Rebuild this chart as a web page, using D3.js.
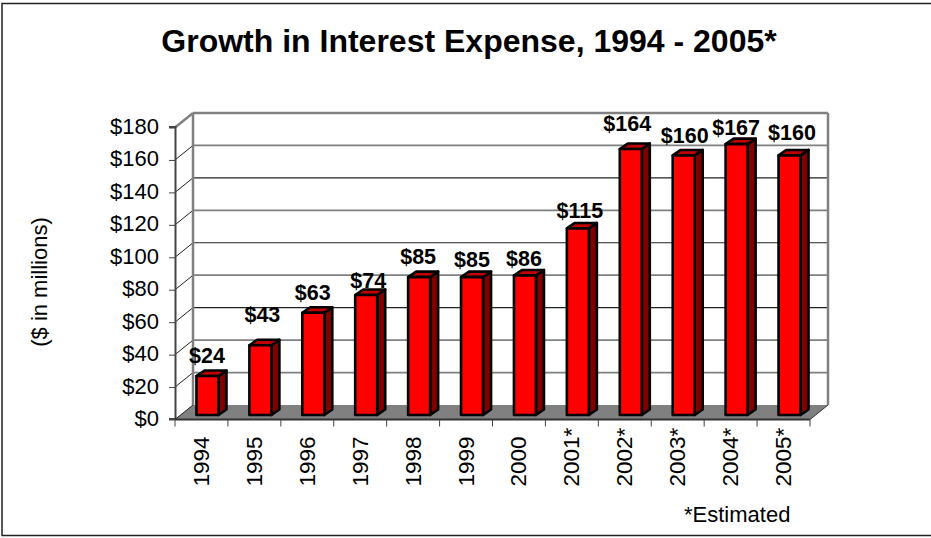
<!DOCTYPE html>
<html>
<head>
<meta charset="utf-8">
<script src="https://cdn.jsdelivr.net/npm/d3@7"></script>
<style>
html, body { margin: 0; padding: 0; background: #fff; overflow: hidden; }
svg { display: block; }
text { font-family: "Liberation Sans", Arial, sans-serif; fill: #000; }
</style>
</head>
<body>
<div id="chart"></div>
<script>
var years = ["1994", "1995", "1996", "1997", "1998", "1999", "2000", "2001*", "2002*", "2003*", "2004*", "2005*"];
var values = [24, 43, 63, 74, 85, 85, 86, 115, 164, 160, 167, 160];
var yTicks = [0, 20, 40, 60, 80, 100, 120, 140, 160, 180];
// hand placed value labels, the original has them dragged around a bit
var labelNudgeX = [-1.5, 1, -1.5, 1, -2, -1, -2, 1, -4.5, 0, -1.5, 1.5];
var labelNudgeY = [1, -9, 1, 7, 1, 4, 4.5, 3.5, -4, 1.5, 5, -1.5];
// these gridlines come out thin and dark in the original, the rest wide and gray
var darkGrid = [60, 100, 140];

var width = 931, height = 538;
var depthX = 18, depthY = 14.5;

var svg = d3.select("#chart").append("svg")
    .attr("width", width)
    .attr("height", height);

// outer frame
svg.append("rect")
    .attr("x", 2).attr("y", 3.5)
    .attr("width", 935).attr("height", 532)
    .attr("fill", "#fff")
    .attr("stroke", "#222")
    .attr("stroke-width", 1.5);

svg.append("text")
    .attr("x", 469).attr("y", 52)
    .attr("text-anchor", "middle")
    .attr("font-size", "32px")
    .attr("font-weight", "bold")
    .text("Growth in Interest Expense, 1994 - 2005*");

var x = d3.scaleBand().domain(years).range([175, 810]);
var y = d3.scaleLinear().domain([0, 180]).range([419.5, 127.5]);

// floor
svg.append("polygon")
    .attr("points", [[175, y(0)], [175 + depthX, y(0) - depthY], [810 + depthX, y(0) - depthY], [810, y(0)]].join(" "))
    .attr("fill", "#808080");

// gridlines on the back wall and the left wall
var grid = svg.append("g");
grid.selectAll(".back").data(yTicks.slice(1)).enter().append("line")
    .attr("class", "back")
    .attr("x1", 175 + depthX).attr("x2", 810 + depthX)
    .attr("y1", function(d) { return y(d) - depthY; })
    .attr("y2", function(d) { return y(d) - depthY; })
    .attr("stroke", function(d) { return darkGrid.indexOf(d) >= 0 ? "#222" : "#808080"; })
    .attr("stroke-width", function(d) { return d == 180 ? 2.5 : darkGrid.indexOf(d) >= 0 ? 1.1 : 1.7; });
grid.selectAll(".side").data(yTicks).enter().append("line")
    .attr("class", "side")
    .attr("x1", 175).attr("x2", 175 + depthX)
    .attr("y1", function(d) { return y(d); })
    .attr("y2", function(d) { return y(d) - depthY; })
    .attr("stroke", function(d) { return d == 180 ? "#808080" : "#222"; })
    .attr("stroke-width", function(d) { return d == 180 ? 2.5 : 1; });

// back wall edges
svg.append("line")
    .attr("x1", 175 + depthX).attr("x2", 175 + depthX)
    .attr("y1", y(180) - depthY).attr("y2", y(0) - depthY)
    .attr("stroke", "#808080").attr("stroke-width", 2.5);
svg.append("line")
    .attr("x1", 810 + depthX).attr("x2", 810 + depthX)
    .attr("y1", y(180) - depthY).attr("y2", y(0) - depthY)
    .attr("stroke", "#808080").attr("stroke-width", 2.5);
svg.append("line")
    .attr("x1", 810).attr("x2", 810 + depthX)
    .attr("y1", y(0)).attr("y2", y(0) - depthY)
    .attr("stroke", "#333");

// bars
var barW = 22, barDx = 8, barDy = 5.5, frontDx = 6, frontDy = 4.5;
var bars = svg.selectAll(".bar").data(values).enter().append("g")
    .attr("class", "bar")
    .attr("stroke", "#000")
    .attr("stroke-width", 2.6)
    .attr("stroke-linejoin", "round");

function barLeft(i) { return x(years[i]) + x.bandwidth() / 2 - barW / 2 + frontDx; }
function barTop(d) { return y(d) - frontDy; }
function barBottom() { return y(0) - frontDy; }

bars.append("polygon")
    .attr("fill", "#800000")
    .attr("points", function(d, i) {
        var r = barLeft(i) + barW;
        return [[r, barTop(d)], [r + barDx, barTop(d) - barDy], [r + barDx, barBottom() - barDy], [r, barBottom()]].join(" ");
    });
bars.append("polygon")
    .attr("fill", "#c00000")
    .attr("points", function(d, i) {
        var l = barLeft(i), r = l + barW;
        return [[l, barTop(d)], [l + barDx, barTop(d) - barDy], [r + barDx, barTop(d) - barDy], [r, barTop(d)]].join(" ");
    });
bars.append("rect")
    .attr("fill", "#ff0000")
    .attr("x", function(d, i) { return barLeft(i); })
    .attr("y", function(d) { return barTop(d); })
    .attr("width", barW)
    .attr("height", function(d) { return barBottom() - barTop(d); });

// value labels
svg.selectAll(".value").data(values).enter().append("text")
    .attr("class", "value")
    .attr("x", function(d, i) { return barLeft(i) + barW / 2 + 1 + labelNudgeX[i]; })
    .attr("y", function(d, i) { return barTop(d) - 14 + labelNudgeY[i]; })
    .attr("text-anchor", "middle")
    .attr("font-size", "21.5px")
    .attr("font-weight", "bold")
    .text(function(d) { return "$" + d; });

// axes
var yAxis = svg.append("g")
    .attr("transform", "translate(175,-1)")
    .call(d3.axisLeft(y).tickValues(yTicks).tickSize(6).tickPadding(10).tickFormat(function(d) { return "$" + d; }));
yAxis.select(".domain").attr("stroke", "#444").attr("stroke-width", 2);
yAxis.selectAll("line").attr("stroke", "#444").attr("transform", "translate(0,1)");
yAxis.selectAll("text").attr("font-size", "22px").style("font-family", "'Liberation Sans'");

var xAxis = svg.append("g")
    .attr("transform", "translate(0," + y(0) + ")");
xAxis.append("line").attr("x1", 175).attr("x2", 810).attr("stroke", "#333").attr("stroke-width", 2);
xAxis.selectAll(".tick").data(d3.range(years.length + 1)).enter().append("line")
    .attr("class", "tick")
    .attr("x1", function(i) { return 175 + i * x.step(); })
    .attr("x2", function(i) { return 175 + i * x.step(); })
    .attr("y1", 0).attr("y2", 7)
    .attr("stroke", "#444");
xAxis.selectAll(".label").data(years).enter().append("text")
    .attr("class", "label")
    .attr("transform", function(d) {
        return "translate(" + (x(d) + x.bandwidth() / 2 + 7.5) + ",67) rotate(-90)";
    })
    .attr("font-size", "22.5px")
    .text(function(d) { return d; });

svg.append("text")
    .attr("transform", "translate(47,282) rotate(-90)")
    .attr("text-anchor", "middle")
    .attr("font-size", "22px")
    .text("($ in millions)");

svg.append("text")
    .attr("x", 684).attr("y", 522)
    .attr("font-size", "22px")
    .text("*Estimated");
</script>
</body>
</html>
